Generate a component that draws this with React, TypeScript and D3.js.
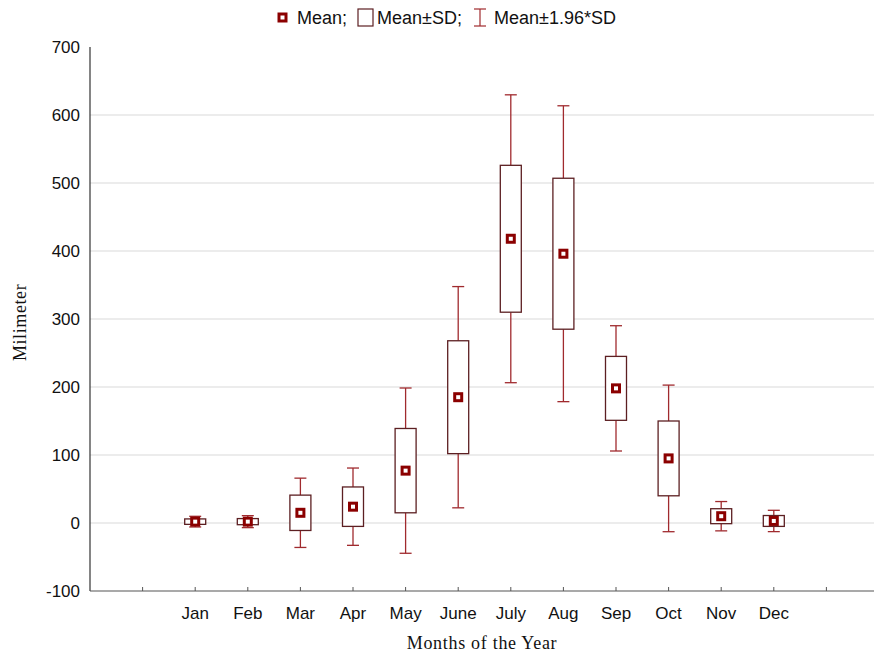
import React from 'react';
import * as d3 from 'd3';

// monthly rainfall stats
const months = ['Jan', 'Feb', 'Mar', 'Apr', 'May', 'June', 'July', 'Aug', 'Sep', 'Oct', 'Nov', 'Dec'];
const means = [2, 2, 15, 24, 77, 185, 418, 396, 198, 95, 10, 3];
const sds = [4, 4.5, 26, 29, 62, 83, 108, 111, 47, 55, 11, 8];
const yTicks = [-100, 0, 100, 200, 300, 400, 500, 600, 700];

const width = 874;
const height = 655;

const boxColor = '#5c1f22';
const whiskerColor = '#a02a2e';
const meanColor = '#8b0000';
const sans = '"Liberation Sans", Arial, sans-serif';
const serif = '"Liberation Serif", "Times New Roman", serif';

const x = d3.scaleLinear().domain([0, 15]).range([90, 879]);
const y = d3.scaleLinear().domain([-100, 700]).range([591, 47]);

export default function App() {
    const boxW = 21;
    const capW = 12;

    return (
        <svg width={width} height={height} style={{ position: 'absolute', left: 0, top: 0, background: '#fff' }}>
            {/* grid */}
            {yTicks.filter(t => t > -100 && t < 700).map(t => (
                <line key={'g' + t} x1={x(0)} x2={width} y1={y(t)} y2={y(t)} stroke="#d9d9d9" strokeWidth={1.2} />
            ))}

            {/* axes */}
            <line x1={x(0)} x2={x(0)} y1={y(700)} y2={y(-100)} stroke="#333" strokeWidth={1.2} />
            <line x1={x(0)} x2={width} y1={y(-100)} y2={y(-100)} stroke="#555" strokeWidth={1.2} />
            {d3.range(1, 15).map(i => (
                <line key={'t' + i} x1={x(i)} x2={x(i)} y1={y(-100)} y2={y(-100) - 4} stroke="#555" />
            ))}

            {yTicks.map(t => (
                <text key={'y' + t} x={80} y={y(t) + 6} textAnchor="end" fontFamily={sans} fontSize={17} fill="#111">{t}</text>
            ))}
            {months.map((m, i) => (
                <text key={'x' + m} x={x(i + 2)} y={619} textAnchor="middle" fontFamily={sans} fontSize={17} fill="#111">{m}</text>
            ))}

            <text transform={`translate(26,${y(295)}) rotate(-90)`} textAnchor="middle" fontFamily={serif} fontSize={18} letterSpacing={0.6} fill="#111">Milimeter</text>
            <text x={482} y={649} textAnchor="middle" fontFamily={serif} fontSize={18} letterSpacing={0.7} fill="#111">Months of the Year</text>

            {/* boxes */}
            {months.map((m, i) => {
                const cx = x(i + 2);
                const mu = means[i];
                const sd = sds[i];
                const lo = mu - 1.96 * sd, hi = mu + 1.96 * sd;
                return (
                    <g key={'b' + m}>
                        <line x1={cx} x2={cx} y1={y(hi)} y2={y(mu + sd)} stroke={whiskerColor} strokeWidth={1.3} />
                        <line x1={cx} x2={cx} y1={y(mu - sd)} y2={y(lo)} stroke={whiskerColor} strokeWidth={1.3} />
                        <line x1={cx - capW / 2} x2={cx + capW / 2} y1={y(hi)} y2={y(hi)} stroke={whiskerColor} strokeWidth={1.3} />
                        <line x1={cx - capW / 2} x2={cx + capW / 2} y1={y(lo)} y2={y(lo)} stroke={whiskerColor} strokeWidth={1.3} />
                        <rect x={cx - boxW / 2} y={y(mu + sd)} width={boxW} height={y(mu - sd) - y(mu + sd)}
                            fill="#fff" stroke={boxColor} strokeWidth={1.3} />
                        <rect x={cx - 3.5} y={y(mu) - 3.5} width={7} height={7} fill="#fff" stroke={meanColor} strokeWidth={3} />
                    </g>
                );
            })}

            {/* legend */}
            <g fontFamily={sans} fontSize={18} fill="#111">
                <rect x={279} y={14} width={7} height={7} fill="#fff" stroke={meanColor} strokeWidth={3} />
                <text x={297} y={24}>Mean;</text>
                <rect x={358} y={9} width={15} height={17} fill="#fff" stroke={boxColor} strokeWidth={1.2} />
                <text x={377} y={24}>Mean±SD;</text>
                <line x1={480} x2={480} y1={9} y2={26} stroke={whiskerColor} strokeWidth={1.2} />
                <line x1={474} x2={486} y1={9} y2={9} stroke={whiskerColor} strokeWidth={1.2} />
                <line x1={474} x2={486} y1={26} y2={26} stroke={whiskerColor} strokeWidth={1.2} />
                <text x={494} y={24}>Mean±1.96*SD</text>
            </g>
        </svg>
    );
}
